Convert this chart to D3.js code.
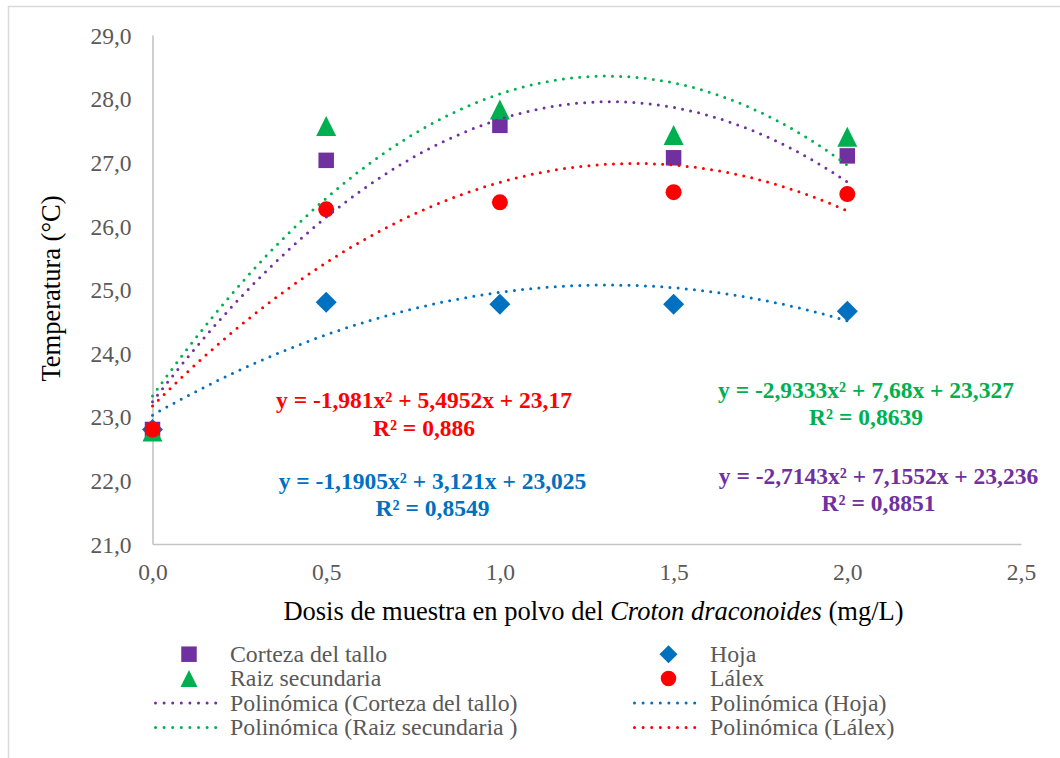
<!DOCTYPE html>
<html>
<head>
<meta charset="utf-8">
<script src="https://cdn.jsdelivr.net/npm/d3@7"></script>
<style>
  html, body { margin: 0; padding: 0; background: #fff; }
  svg { display: block; }
  svg text { font-family: "Liberation Serif", "Times New Roman", serif; }
</style>
</head>
<body>
<svg id="chart" width="1060" height="758" font-family="Liberation Serif, serif"></svg>
<script>
// Dose levels (mg/L)
const doses = [0.0, 0.5, 1.0, 1.5, 2.0];

// Mean temperature (°C) per plant part
const corteza = [22.80, 27.03, 27.58, 27.07, 27.10];
const hoja    = [22.80, 24.80, 24.77, 24.77, 24.66];
const raiz    = [22.77, 27.57, 27.83, 27.43, 27.40];
const lalex   = [22.80, 26.26, 26.37, 26.53, 26.50];

// Second-order trend coefficients [a, b, c] for y = a x² + b x + c, and R²
const fitCorteza = [-2.7143, 7.1552, 23.236];
const fitHoja    = [-1.1905, 3.121, 23.025];
const fitRaiz    = [-2.9333, 7.68, 23.327];
const fitLalex   = [-1.981, 5.4952, 23.17];
const r2Values   = { corteza: "0,8851", hoja: "0,8549", raiz: "0,8639", lalex: "0,886" };

// Axis ticks
const xTicks = [0, 0.5, 1.0, 1.5, 2.0, 2.5];
const yTicks = [21, 22, 23, 24, 25, 26, 27, 28, 29];

const colors = { corteza: "#7030A0", hoja: "#0070C0", raiz: "#00B050", lalex: "#FF0000" };
const SERIF = "'Liberation Serif', 'Times New Roman', serif";

const svg = d3.select("#chart");

// outer chart frame
svg.append("rect")
  .attr("x", 8.5).attr("y", 6.5).attr("width", 1080).attr("height", 780)
  .attr("fill", "none").attr("stroke", "#d9d9d9").attr("stroke-width", 1.5);

const x = d3.scaleLinear().domain([0, 2.5]).range([152.5, 1021]);
const y = d3.scaleLinear().domain([21, 29]).range([544, 35]);

const comma = v => d3.format(".1f")(v).replace(".", ",");

// axes
const xAxis = svg.append("g").attr("transform", `translate(0,${y(21)})`)
  .call(d3.axisBottom(x).tickValues(xTicks).tickFormat(comma).tickSize(0).tickPadding(36));
const yAxis = svg.append("g").attr("transform", `translate(${x(0)},0)`)
  .call(d3.axisLeft(y).tickValues(yTicks).tickFormat(comma).tickSize(0).tickPadding(21));

[xAxis, yAxis].forEach(g => {
  g.attr("font-family", SERIF).attr("font-size", null);
  g.select(".domain").attr("stroke", "#c4c4c4").attr("stroke-width", 1.6);
  g.selectAll(".tick text")
    .attr("fill", "#595959")
    .style("font-family", SERIF)
    .style("font-size", "23.5px");
});
yAxis.selectAll(".tick text").attr("dy", "0.35em");
xAxis.selectAll(".tick text").attr("dy", "0");

// axis titles
const xTitle = svg.append("text")
  .attr("x", 593.5).attr("y", 620)
  .attr("text-anchor", "middle")
  .attr("fill", "#000")
  .style("font-family", SERIF)
  .style("font-size", "26.5px");
xTitle.append("tspan").text("Dosis de muestra en polvo del ");
xTitle.append("tspan").attr("font-style", "italic").text("Croton draconoides");
xTitle.append("tspan").text(" (mg/L)");

svg.append("text")
  .attr("transform", "translate(60,288.5) rotate(-90)")
  .attr("text-anchor", "middle")
  .attr("fill", "#000")
  .style("font-family", SERIF)
  .style("font-size", "26.5px")
  .text("Temperatura (°C)");

// marker shapes centred on their bounding box
const shapes = {
  square: s => `M${-s/2},${-s/2}h${s}v${s}h${-s}Z`,
  diamond: s => `M0,${-s/2}L${s/2},0L0,${s/2}L${-s/2},0Z`,
  triangle: s => `M0,${-s/2}L${s/2},${s/2}L${-s/2},${s/2}Z`,
  circle: s => `M${s/2},0A${s/2},${s/2} 0 1,1 ${-s/2},0A${s/2},${s/2} 0 1,1 ${s/2},0Z`
};

const series = [
  { key: "corteza", name: "Corteza del tallo", values: corteza, fit: fitCorteza, shape: "square", size: 15.5 },
  { key: "hoja", name: "Hoja", values: hoja, fit: fitHoja, shape: "diamond", size: 21 },
  { key: "raiz", name: "Raiz secundaria", values: raiz, fit: fitRaiz, shape: "triangle", size: 20 },
  { key: "lalex", name: "Lálex", values: lalex, fit: fitLalex, shape: "circle", size: 16 }
];

// data markers
series.forEach(s => {
  svg.append("g").selectAll("path")
    .data(doses.map((d, i) => [d, s.values[i]]))
    .join("path")
    .attr("transform", d => `translate(${x(d[0])},${y(d[1])})`)
    .attr("d", shapes[s.shape](s.size))
    .attr("fill", colors[s.key]);
});

// polynomial trend lines over the dose range
const trendXs = d3.range(0, 2.0001, 0.02);
const line = d3.line().x(d => x(d[0])).y(d => y(d[1])).curve(d3.curveLinear);
series.forEach(s => {
  const [a, b, c] = s.fit;
  svg.append("path")
    .datum(trendXs.map(v => [v, a * v * v + b * v + c]))
    .attr("d", line)
    .attr("fill", "none")
    .attr("stroke", colors[s.key])
    .attr("stroke-width", 3)
    .attr("stroke-linecap", "round")
    .attr("stroke-dasharray", "0 8.2");
});

// trend equations
const fmt = v => String(Math.abs(v)).replace(".", ",");
function eqText(f) {
  return `y = ${f[0] < 0 ? "-" : ""}${fmt(f[0])}x² + ${fmt(f[1])}x + ${fmt(f[2])}`;
}
const eqLabels = [
  { key: "lalex", fit: fitLalex, r2: r2Values.lalex, cx: 424, y1: 408.3, y2: 436 },
  { key: "hoja", fit: fitHoja, r2: r2Values.hoja, cx: 432.5, y1: 489.3, y2: 515.5 },
  { key: "raiz", fit: fitRaiz, r2: r2Values.raiz, cx: 866, y1: 398.3, y2: 425 },
  { key: "corteza", fit: fitCorteza, r2: r2Values.corteza, cx: 878.5, y1: 483.5, y2: 510.7 }
];
eqLabels.forEach(e => {
  const g = svg.append("g")
    .attr("fill", colors[e.key])
    .attr("text-anchor", "middle")
    .style("font-family", SERIF)
    .style("font-size", "23.5px")
    .style("font-weight", "bold");
  g.append("text").attr("x", e.cx).attr("y", e.y1).text(eqText(e.fit));
  g.append("text").attr("x", e.cx).attr("y", e.y2).text(`R² = ${e.r2}`);
});

// legend
const legendRows = [
  { col: 0, row: 0, type: "marker", s: series[0] },
  { col: 1, row: 0, type: "marker", s: series[1] },
  { col: 0, row: 1, type: "marker", s: series[2] },
  { col: 1, row: 1, type: "marker", s: series[3] },
  { col: 0, row: 2, type: "line", s: series[0], label: "Polinómica (Corteza del tallo)" },
  { col: 1, row: 2, type: "line", s: series[1], label: "Polinómica (Hoja)" },
  { col: 0, row: 3, type: "line", s: series[2], label: "Polinómica (Raiz secundaria )" },
  { col: 1, row: 3, type: "line", s: series[3], label: "Polinómica (Lálex)" }
];
const colX = [{ sym: 189, l0: 154, l1: 223, text: 230 }, { sym: 668.5, l0: 633, l1: 703, text: 710 }];
const rowY = r => 654.2 + r * 24.4;
legendRows.forEach(it => {
  const c = colX[it.col];
  const cy = rowY(it.row);
  if (it.type === "marker") {
    svg.append("path")
      .attr("transform", `translate(${c.sym},${cy})`)
      .attr("d", shapes[it.s.shape](it.s.shape === "diamond" ? 18 : it.s.shape === "triangle" ? 17 : 15.5))
      .attr("fill", colors[it.s.key]);
  } else {
    svg.append("line")
      .attr("x1", c.l0 + 1.5).attr("x2", c.l1)
      .attr("y1", cy).attr("y2", cy)
      .attr("stroke", colors[it.s.key])
      .attr("stroke-width", 3)
      .attr("stroke-linecap", "round")
      .attr("stroke-dasharray", "0 8.6");
  }
  svg.append("text")
    .attr("x", c.text).attr("y", cy + 7.5)
    .attr("fill", "#595959")
    .style("font-family", SERIF)
    .style("font-size", "23.8px")
    .text(it.label || it.s.name);
});
</script>
</body>
</html>
